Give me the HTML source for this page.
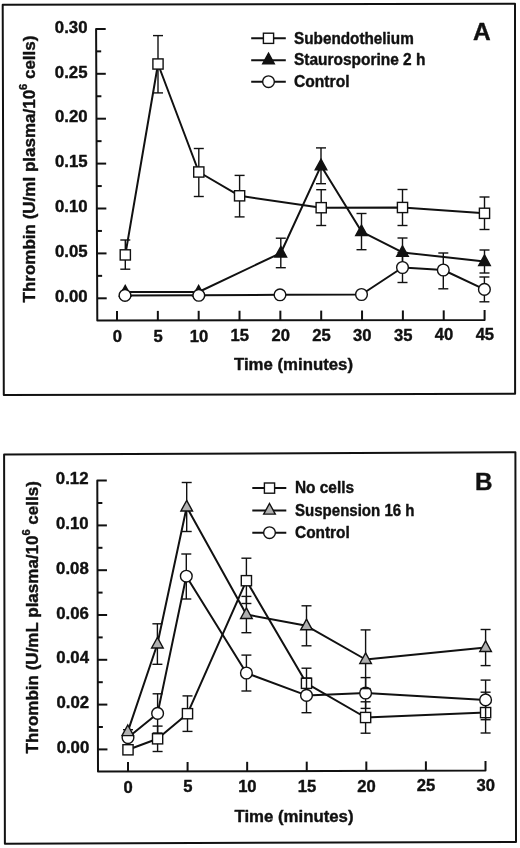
<!DOCTYPE html>
<html><head><meta charset="utf-8"><title>Thrombin generation</title>
<style>
html,body{margin:0;padding:0;background:#fff;}
svg{display:block;filter:grayscale(1);}
svg text{font-family:"Liberation Sans",sans-serif;font-weight:bold;fill:#111;stroke:#111;stroke-width:0.4px;stroke-linejoin:round;}
</style></head><body>
<svg width="520" height="848" viewBox="0 0 520 848" stroke="#111" stroke-linecap="butt">
<rect x="0" y="0" width="520" height="848" fill="#fff" stroke="none"/>
<polygon points="2.70,4.70 515.00,3.80 515.10,393.80 3.80,395.00" fill="none" stroke-width="2.0" stroke-linejoin="round"/>
<polyline points="105.70,28.90 96.10,28.90 97.30,320.60 484.60,319.90 484.60,310.10" fill="none" stroke-width="2.0" stroke-linejoin="round"/>
<text x="87.50" y="32.60" font-size="16.8" text-anchor="end" >0.30</text>
<line x1="96.19" y1="51.35" x2="101.19" y2="51.35" stroke-width="2.0"/>
<line x1="96.28" y1="73.80" x2="105.78" y2="73.80" stroke-width="2.0"/>
<text x="87.53" y="77.50" font-size="16.8" text-anchor="end" >0.25</text>
<line x1="96.38" y1="96.25" x2="101.38" y2="96.25" stroke-width="2.0"/>
<line x1="96.47" y1="118.70" x2="105.97" y2="118.70" stroke-width="2.0"/>
<text x="87.57" y="122.40" font-size="16.8" text-anchor="end" >0.20</text>
<line x1="96.56" y1="141.15" x2="101.56" y2="141.15" stroke-width="2.0"/>
<line x1="96.65" y1="163.60" x2="106.15" y2="163.60" stroke-width="2.0"/>
<text x="87.60" y="167.30" font-size="16.8" text-anchor="end" >0.15</text>
<line x1="96.75" y1="186.05" x2="101.75" y2="186.05" stroke-width="2.0"/>
<line x1="96.84" y1="208.50" x2="106.34" y2="208.50" stroke-width="2.0"/>
<text x="87.63" y="212.20" font-size="16.8" text-anchor="end" >0.10</text>
<line x1="96.93" y1="230.95" x2="101.93" y2="230.95" stroke-width="2.0"/>
<line x1="97.02" y1="253.40" x2="106.52" y2="253.40" stroke-width="2.0"/>
<text x="87.67" y="257.10" font-size="16.8" text-anchor="end" >0.05</text>
<line x1="97.12" y1="275.85" x2="102.12" y2="275.85" stroke-width="2.0"/>
<line x1="97.21" y1="298.30" x2="106.71" y2="298.30" stroke-width="2.0"/>
<text x="87.70" y="302.00" font-size="16.8" text-anchor="end" >0.00</text>
<line x1="117.00" y1="320.56" x2="117.00" y2="310.96" stroke-width="2.0"/>
<text x="117.30" y="341.90" font-size="16.6" text-anchor="middle" >0</text>
<line x1="157.84" y1="320.49" x2="157.84" y2="310.89" stroke-width="2.0"/>
<text x="158.14" y="341.72" font-size="16.6" text-anchor="middle" >5</text>
<line x1="198.68" y1="320.42" x2="198.68" y2="310.82" stroke-width="2.0"/>
<text x="198.98" y="341.54" font-size="16.6" text-anchor="middle" >10</text>
<line x1="239.52" y1="320.34" x2="239.52" y2="310.74" stroke-width="2.0"/>
<text x="239.82" y="341.37" font-size="16.6" text-anchor="middle" >15</text>
<line x1="280.36" y1="320.27" x2="280.36" y2="310.67" stroke-width="2.0"/>
<text x="280.66" y="341.19" font-size="16.6" text-anchor="middle" >20</text>
<line x1="321.20" y1="320.20" x2="321.20" y2="310.60" stroke-width="2.0"/>
<text x="321.50" y="341.01" font-size="16.6" text-anchor="middle" >25</text>
<line x1="362.04" y1="320.12" x2="362.04" y2="310.52" stroke-width="2.0"/>
<text x="362.34" y="340.83" font-size="16.6" text-anchor="middle" >30</text>
<line x1="402.88" y1="320.05" x2="402.88" y2="310.45" stroke-width="2.0"/>
<text x="403.18" y="340.66" font-size="16.6" text-anchor="middle" >35</text>
<line x1="443.72" y1="319.97" x2="443.72" y2="310.37" stroke-width="2.0"/>
<text x="444.02" y="340.48" font-size="16.6" text-anchor="middle" >40</text>
<text x="484.86" y="340.30" font-size="16.6" text-anchor="middle" >45</text>
<text x="293.50" y="369.80" font-size="16.8" text-anchor="middle" >Time (minutes)</text>
<text transform="translate(35.3,169) rotate(-90)" font-size="17" text-anchor="middle">Thrombin (U/ml plasma/10<tspan font-size="11" dy="-8">6</tspan><tspan dy="8"> cells)</tspan></text>
<text x="473.00" y="40.30" font-size="24.5" text-anchor="start" >A</text>
<line x1="251.20" y1="38.30" x2="285.80" y2="38.30" stroke-width="2.0"/>
<rect x="263.40" y="33.20" width="10.20" height="10.20" fill="#fff" stroke-width="1.4"/>
<line x1="251.20" y1="60.20" x2="285.80" y2="60.20" stroke-width="2.0"/>
<polygon points="268.50,53.10 274.30,63.70 262.70,63.70" fill="#111" stroke-width="1.4" stroke-linejoin="miter"/>
<line x1="251.20" y1="81.70" x2="285.80" y2="81.70" stroke-width="2.0"/>
<circle cx="268.50" cy="81.70" r="5.85" fill="#fff" stroke-width="1.4"/>
<text x="294.00" y="43.80" font-size="16" text-anchor="start" textLength="119.8" lengthAdjust="spacingAndGlyphs">Subendothelium</text>
<text x="294.00" y="65.00" font-size="16" text-anchor="start" textLength="131.4" lengthAdjust="spacingAndGlyphs">Staurosporine 2 h</text>
<text x="294.00" y="87.00" font-size="16" text-anchor="start" textLength="55.5" lengthAdjust="spacingAndGlyphs">Control</text>
<line x1="125.30" y1="254.90" x2="125.30" y2="240.00" stroke-width="1.4"/>
<line x1="120.30" y1="240.00" x2="130.30" y2="240.00" stroke-width="1.4"/>
<line x1="125.30" y1="254.90" x2="125.30" y2="269.20" stroke-width="1.4"/>
<line x1="120.30" y1="269.20" x2="130.30" y2="269.20" stroke-width="1.4"/>
<line x1="158.00" y1="64.00" x2="158.00" y2="35.60" stroke-width="1.4"/>
<line x1="153.00" y1="35.60" x2="163.00" y2="35.60" stroke-width="1.4"/>
<line x1="158.00" y1="64.00" x2="158.00" y2="92.90" stroke-width="1.4"/>
<line x1="153.00" y1="92.90" x2="163.00" y2="92.90" stroke-width="1.4"/>
<line x1="198.80" y1="172.00" x2="198.80" y2="148.50" stroke-width="1.4"/>
<line x1="193.80" y1="148.50" x2="203.80" y2="148.50" stroke-width="1.4"/>
<line x1="198.80" y1="172.00" x2="198.80" y2="196.50" stroke-width="1.4"/>
<line x1="193.80" y1="196.50" x2="203.80" y2="196.50" stroke-width="1.4"/>
<line x1="239.60" y1="195.80" x2="239.60" y2="175.40" stroke-width="1.4"/>
<line x1="234.60" y1="175.40" x2="244.60" y2="175.40" stroke-width="1.4"/>
<line x1="239.60" y1="195.80" x2="239.60" y2="216.90" stroke-width="1.4"/>
<line x1="234.60" y1="216.90" x2="244.60" y2="216.90" stroke-width="1.4"/>
<line x1="321.20" y1="207.70" x2="321.20" y2="189.70" stroke-width="1.4"/>
<line x1="316.20" y1="189.70" x2="326.20" y2="189.70" stroke-width="1.4"/>
<line x1="321.20" y1="207.70" x2="321.20" y2="225.50" stroke-width="1.4"/>
<line x1="316.20" y1="225.50" x2="326.20" y2="225.50" stroke-width="1.4"/>
<line x1="402.50" y1="207.50" x2="402.50" y2="189.50" stroke-width="1.4"/>
<line x1="397.50" y1="189.50" x2="407.50" y2="189.50" stroke-width="1.4"/>
<line x1="402.50" y1="207.50" x2="402.50" y2="225.50" stroke-width="1.4"/>
<line x1="397.50" y1="225.50" x2="407.50" y2="225.50" stroke-width="1.4"/>
<line x1="484.50" y1="213.30" x2="484.50" y2="197.00" stroke-width="1.4"/>
<line x1="479.50" y1="197.00" x2="489.50" y2="197.00" stroke-width="1.4"/>
<line x1="484.50" y1="213.30" x2="484.50" y2="229.50" stroke-width="1.4"/>
<line x1="479.50" y1="229.50" x2="489.50" y2="229.50" stroke-width="1.4"/>
<polyline points="125.30,254.90 158.00,64.00 198.80,172.00 239.60,195.80 321.20,207.70 402.50,207.50 484.50,213.30" fill="none" stroke-width="2.0" stroke-linejoin="round"/>
<rect x="120.20" y="249.80" width="10.20" height="10.20" fill="#fff" stroke-width="1.4"/>
<rect x="152.90" y="58.90" width="10.20" height="10.20" fill="#fff" stroke-width="1.4"/>
<rect x="193.70" y="166.90" width="10.20" height="10.20" fill="#fff" stroke-width="1.4"/>
<rect x="234.50" y="190.70" width="10.20" height="10.20" fill="#fff" stroke-width="1.4"/>
<rect x="316.10" y="202.60" width="10.20" height="10.20" fill="#fff" stroke-width="1.4"/>
<rect x="397.40" y="202.40" width="10.20" height="10.20" fill="#fff" stroke-width="1.4"/>
<rect x="479.40" y="208.20" width="10.20" height="10.20" fill="#fff" stroke-width="1.4"/>
<line x1="280.80" y1="253.00" x2="280.80" y2="238.20" stroke-width="1.4"/>
<line x1="275.80" y1="238.20" x2="285.80" y2="238.20" stroke-width="1.4"/>
<line x1="280.80" y1="253.00" x2="280.80" y2="267.70" stroke-width="1.4"/>
<line x1="275.80" y1="267.70" x2="285.80" y2="267.70" stroke-width="1.4"/>
<line x1="321.00" y1="165.80" x2="321.00" y2="147.90" stroke-width="1.4"/>
<line x1="316.00" y1="147.90" x2="326.00" y2="147.90" stroke-width="1.4"/>
<line x1="321.00" y1="165.80" x2="321.00" y2="183.70" stroke-width="1.4"/>
<line x1="316.00" y1="183.70" x2="326.00" y2="183.70" stroke-width="1.4"/>
<line x1="361.50" y1="231.60" x2="361.50" y2="213.50" stroke-width="1.4"/>
<line x1="356.50" y1="213.50" x2="366.50" y2="213.50" stroke-width="1.4"/>
<line x1="361.50" y1="231.60" x2="361.50" y2="249.70" stroke-width="1.4"/>
<line x1="356.50" y1="249.70" x2="366.50" y2="249.70" stroke-width="1.4"/>
<line x1="402.50" y1="252.40" x2="402.50" y2="238.00" stroke-width="1.4"/>
<line x1="397.50" y1="238.00" x2="407.50" y2="238.00" stroke-width="1.4"/>
<line x1="402.50" y1="252.40" x2="402.50" y2="266.80" stroke-width="1.4"/>
<line x1="397.50" y1="266.80" x2="407.50" y2="266.80" stroke-width="1.4"/>
<line x1="484.50" y1="261.50" x2="484.50" y2="250.00" stroke-width="1.4"/>
<line x1="479.50" y1="250.00" x2="489.50" y2="250.00" stroke-width="1.4"/>
<line x1="484.50" y1="261.50" x2="484.50" y2="273.00" stroke-width="1.4"/>
<line x1="479.50" y1="273.00" x2="489.50" y2="273.00" stroke-width="1.4"/>
<polyline points="125.20,292.00 198.60,292.00 280.80,253.00 321.00,165.80 361.50,231.60 402.50,252.40 484.50,261.50" fill="none" stroke-width="2.0" stroke-linejoin="round"/>
<polygon points="125.20,285.40 131.00,296.00 119.40,296.00" fill="#111" stroke-width="1.4" stroke-linejoin="miter"/>
<polygon points="198.60,285.40 204.40,296.00 192.80,296.00" fill="#111" stroke-width="1.4" stroke-linejoin="miter"/>
<polygon points="280.80,246.40 286.60,257.00 275.00,257.00" fill="#111" stroke-width="1.4" stroke-linejoin="miter"/>
<polygon points="321.00,159.20 326.80,169.80 315.20,169.80" fill="#111" stroke-width="1.4" stroke-linejoin="miter"/>
<polygon points="361.50,225.00 367.30,235.60 355.70,235.60" fill="#111" stroke-width="1.4" stroke-linejoin="miter"/>
<polygon points="402.50,245.80 408.30,256.40 396.70,256.40" fill="#111" stroke-width="1.4" stroke-linejoin="miter"/>
<polygon points="484.50,254.90 490.30,265.50 478.70,265.50" fill="#111" stroke-width="1.4" stroke-linejoin="miter"/>
<line x1="402.50" y1="267.50" x2="402.50" y2="252.50" stroke-width="1.4"/>
<line x1="397.50" y1="252.50" x2="407.50" y2="252.50" stroke-width="1.4"/>
<line x1="402.50" y1="267.50" x2="402.50" y2="282.50" stroke-width="1.4"/>
<line x1="397.50" y1="282.50" x2="407.50" y2="282.50" stroke-width="1.4"/>
<line x1="443.30" y1="270.00" x2="443.30" y2="253.00" stroke-width="1.4"/>
<line x1="438.30" y1="253.00" x2="448.30" y2="253.00" stroke-width="1.4"/>
<line x1="443.30" y1="270.00" x2="443.30" y2="288.80" stroke-width="1.4"/>
<line x1="438.30" y1="288.80" x2="448.30" y2="288.80" stroke-width="1.4"/>
<line x1="484.40" y1="289.40" x2="484.40" y2="277.00" stroke-width="1.4"/>
<line x1="479.40" y1="277.00" x2="489.40" y2="277.00" stroke-width="1.4"/>
<line x1="484.40" y1="289.40" x2="484.40" y2="301.80" stroke-width="1.4"/>
<line x1="479.40" y1="301.80" x2="489.40" y2="301.80" stroke-width="1.4"/>
<polyline points="125.00,295.40 198.80,295.30 280.00,294.80 361.50,294.50 402.50,267.50 443.30,270.00 484.40,289.40" fill="none" stroke-width="2.0" stroke-linejoin="round"/>
<circle cx="125.00" cy="295.40" r="5.85" fill="#fff" stroke-width="1.4"/>
<circle cx="198.80" cy="295.30" r="5.85" fill="#fff" stroke-width="1.4"/>
<circle cx="280.00" cy="294.80" r="5.85" fill="#fff" stroke-width="1.4"/>
<circle cx="361.50" cy="294.50" r="5.85" fill="#fff" stroke-width="1.4"/>
<circle cx="402.50" cy="267.50" r="5.85" fill="#fff" stroke-width="1.4"/>
<circle cx="443.30" cy="270.00" r="5.85" fill="#fff" stroke-width="1.4"/>
<circle cx="484.40" cy="289.40" r="5.85" fill="#fff" stroke-width="1.4"/>
<polygon points="4.10,454.50 515.40,452.30 516.00,842.00 4.90,843.70" fill="none" stroke-width="2.0" stroke-linejoin="round"/>
<polyline points="106.80,480.60 97.30,480.60 98.00,771.60 485.50,770.60 485.50,761.10" fill="none" stroke-width="2.0" stroke-linejoin="round"/>
<text x="88.50" y="483.90" font-size="16.8" text-anchor="end" >0.12</text>
<line x1="97.35" y1="503.00" x2="102.35" y2="503.00" stroke-width="2.0"/>
<line x1="97.41" y1="525.40" x2="106.91" y2="525.40" stroke-width="2.0"/>
<text x="88.63" y="528.78" font-size="16.8" text-anchor="end" >0.10</text>
<line x1="97.46" y1="547.80" x2="102.46" y2="547.80" stroke-width="2.0"/>
<line x1="97.52" y1="570.20" x2="107.02" y2="570.20" stroke-width="2.0"/>
<text x="88.77" y="573.67" font-size="16.8" text-anchor="end" >0.08</text>
<line x1="97.57" y1="592.60" x2="102.57" y2="592.60" stroke-width="2.0"/>
<line x1="97.62" y1="615.00" x2="107.12" y2="615.00" stroke-width="2.0"/>
<text x="88.90" y="618.55" font-size="16.8" text-anchor="end" >0.06</text>
<line x1="97.68" y1="637.40" x2="102.68" y2="637.40" stroke-width="2.0"/>
<line x1="97.73" y1="659.80" x2="107.23" y2="659.80" stroke-width="2.0"/>
<text x="89.03" y="663.43" font-size="16.8" text-anchor="end" >0.04</text>
<line x1="97.78" y1="682.20" x2="102.78" y2="682.20" stroke-width="2.0"/>
<line x1="97.84" y1="704.60" x2="107.34" y2="704.60" stroke-width="2.0"/>
<text x="89.17" y="708.32" font-size="16.8" text-anchor="end" >0.02</text>
<line x1="97.89" y1="727.00" x2="102.89" y2="727.00" stroke-width="2.0"/>
<line x1="97.95" y1="749.40" x2="107.45" y2="749.40" stroke-width="2.0"/>
<text x="89.30" y="753.20" font-size="16.8" text-anchor="end" >0.00</text>
<line x1="128.00" y1="771.52" x2="128.00" y2="762.12" stroke-width="2.0"/>
<text x="128.20" y="792.60" font-size="16.6" text-anchor="middle" >0</text>
<line x1="187.58" y1="771.37" x2="187.58" y2="761.97" stroke-width="2.0"/>
<text x="187.78" y="792.37" font-size="16.6" text-anchor="middle" >5</text>
<line x1="247.16" y1="771.22" x2="247.16" y2="761.82" stroke-width="2.0"/>
<text x="247.36" y="792.13" font-size="16.6" text-anchor="middle" >10</text>
<line x1="306.74" y1="771.06" x2="306.74" y2="761.66" stroke-width="2.0"/>
<text x="306.94" y="791.90" font-size="16.6" text-anchor="middle" >15</text>
<line x1="366.32" y1="770.91" x2="366.32" y2="761.51" stroke-width="2.0"/>
<text x="366.52" y="791.67" font-size="16.6" text-anchor="middle" >20</text>
<line x1="425.90" y1="770.75" x2="425.90" y2="761.35" stroke-width="2.0"/>
<text x="426.10" y="791.43" font-size="16.6" text-anchor="middle" >25</text>
<text x="485.68" y="791.20" font-size="16.6" text-anchor="middle" >30</text>
<text x="294.00" y="821.70" font-size="16.8" text-anchor="middle" >Time (minutes)</text>
<text transform="translate(37.6,617.3) rotate(-90)" font-size="17" text-anchor="middle">Thrombin (U/mL plasma/10<tspan font-size="11" dy="-8">6</tspan><tspan dy="8"> cells)</tspan></text>
<text x="475.00" y="490.00" font-size="24.2" text-anchor="start" >B</text>
<line x1="252.30" y1="488.10" x2="286.30" y2="488.10" stroke-width="2.0"/>
<rect x="264.40" y="483.00" width="10.20" height="10.20" fill="#fff" stroke-width="1.4"/>
<line x1="252.30" y1="510.60" x2="286.30" y2="510.60" stroke-width="2.0"/>
<polygon points="269.50,503.50 275.30,514.10 263.70,514.10" fill="#b0b0b0" stroke-width="1.4" stroke-linejoin="miter"/>
<line x1="252.30" y1="532.70" x2="286.30" y2="532.70" stroke-width="2.0"/>
<circle cx="269.50" cy="532.70" r="5.85" fill="#fff" stroke-width="1.4"/>
<text x="295.00" y="493.00" font-size="16" text-anchor="start" textLength="59" lengthAdjust="spacingAndGlyphs">No cells</text>
<text x="295.00" y="515.50" font-size="16" text-anchor="start" textLength="119.5" lengthAdjust="spacingAndGlyphs">Suspension 16 h</text>
<text x="295.00" y="537.50" font-size="16" text-anchor="start" textLength="54.8" lengthAdjust="spacingAndGlyphs">Control</text>
<line x1="157.60" y1="738.80" x2="157.60" y2="726.10" stroke-width="1.4"/>
<line x1="152.60" y1="726.10" x2="162.60" y2="726.10" stroke-width="1.4"/>
<line x1="157.60" y1="738.80" x2="157.60" y2="751.50" stroke-width="1.4"/>
<line x1="152.60" y1="751.50" x2="162.60" y2="751.50" stroke-width="1.4"/>
<line x1="187.50" y1="713.70" x2="187.50" y2="695.90" stroke-width="1.4"/>
<line x1="182.50" y1="695.90" x2="192.50" y2="695.90" stroke-width="1.4"/>
<line x1="187.50" y1="713.70" x2="187.50" y2="731.40" stroke-width="1.4"/>
<line x1="182.50" y1="731.40" x2="192.50" y2="731.40" stroke-width="1.4"/>
<line x1="246.40" y1="580.70" x2="246.40" y2="558.20" stroke-width="1.4"/>
<line x1="241.40" y1="558.20" x2="251.40" y2="558.20" stroke-width="1.4"/>
<line x1="246.40" y1="580.70" x2="246.40" y2="603.50" stroke-width="1.4"/>
<line x1="241.40" y1="603.50" x2="251.40" y2="603.50" stroke-width="1.4"/>
<line x1="306.50" y1="683.30" x2="306.50" y2="668.20" stroke-width="1.4"/>
<line x1="301.50" y1="668.20" x2="311.50" y2="668.20" stroke-width="1.4"/>
<line x1="306.50" y1="683.30" x2="306.50" y2="698.40" stroke-width="1.4"/>
<line x1="301.50" y1="698.40" x2="311.50" y2="698.40" stroke-width="1.4"/>
<line x1="365.60" y1="717.50" x2="365.60" y2="701.80" stroke-width="1.4"/>
<line x1="360.60" y1="701.80" x2="370.60" y2="701.80" stroke-width="1.4"/>
<line x1="365.60" y1="717.50" x2="365.60" y2="733.20" stroke-width="1.4"/>
<line x1="360.60" y1="733.20" x2="370.60" y2="733.20" stroke-width="1.4"/>
<line x1="485.60" y1="712.60" x2="485.60" y2="692.20" stroke-width="1.4"/>
<line x1="480.60" y1="692.20" x2="490.60" y2="692.20" stroke-width="1.4"/>
<line x1="485.60" y1="712.60" x2="485.60" y2="733.00" stroke-width="1.4"/>
<line x1="480.60" y1="733.00" x2="490.60" y2="733.00" stroke-width="1.4"/>
<polyline points="128.00,749.80 157.60,738.80 187.50,713.70 246.40,580.70 306.50,683.30 365.60,717.50 485.60,712.60" fill="none" stroke-width="2.0" stroke-linejoin="round"/>
<rect x="122.90" y="744.70" width="10.20" height="10.20" fill="#fff" stroke-width="1.4"/>
<rect x="152.50" y="733.70" width="10.20" height="10.20" fill="#fff" stroke-width="1.4"/>
<rect x="182.40" y="708.60" width="10.20" height="10.20" fill="#fff" stroke-width="1.4"/>
<rect x="241.30" y="575.60" width="10.20" height="10.20" fill="#fff" stroke-width="1.4"/>
<rect x="301.40" y="678.20" width="10.20" height="10.20" fill="#fff" stroke-width="1.4"/>
<rect x="360.50" y="712.40" width="10.20" height="10.20" fill="#fff" stroke-width="1.4"/>
<rect x="480.50" y="707.50" width="10.20" height="10.20" fill="#fff" stroke-width="1.4"/>
<line x1="128.00" y1="737.60" x2="128.00" y2="729.70" stroke-width="1.4"/>
<line x1="123.00" y1="729.70" x2="133.00" y2="729.70" stroke-width="1.4"/>
<line x1="157.60" y1="713.40" x2="157.60" y2="693.80" stroke-width="1.4"/>
<line x1="152.60" y1="693.80" x2="162.60" y2="693.80" stroke-width="1.4"/>
<line x1="157.60" y1="713.40" x2="157.60" y2="733.00" stroke-width="1.4"/>
<line x1="152.60" y1="733.00" x2="162.60" y2="733.00" stroke-width="1.4"/>
<line x1="186.30" y1="576.20" x2="186.30" y2="554.00" stroke-width="1.4"/>
<line x1="181.30" y1="554.00" x2="191.30" y2="554.00" stroke-width="1.4"/>
<line x1="186.30" y1="576.20" x2="186.30" y2="599.00" stroke-width="1.4"/>
<line x1="181.30" y1="599.00" x2="191.30" y2="599.00" stroke-width="1.4"/>
<line x1="246.40" y1="673.00" x2="246.40" y2="655.10" stroke-width="1.4"/>
<line x1="241.40" y1="655.10" x2="251.40" y2="655.10" stroke-width="1.4"/>
<line x1="246.40" y1="673.00" x2="246.40" y2="691.00" stroke-width="1.4"/>
<line x1="241.40" y1="691.00" x2="251.40" y2="691.00" stroke-width="1.4"/>
<line x1="306.50" y1="695.40" x2="306.50" y2="678.10" stroke-width="1.4"/>
<line x1="301.50" y1="678.10" x2="311.50" y2="678.10" stroke-width="1.4"/>
<line x1="306.50" y1="695.40" x2="306.50" y2="712.70" stroke-width="1.4"/>
<line x1="301.50" y1="712.70" x2="311.50" y2="712.70" stroke-width="1.4"/>
<line x1="365.60" y1="693.00" x2="365.60" y2="677.60" stroke-width="1.4"/>
<line x1="360.60" y1="677.60" x2="370.60" y2="677.60" stroke-width="1.4"/>
<line x1="365.60" y1="693.00" x2="365.60" y2="708.40" stroke-width="1.4"/>
<line x1="360.60" y1="708.40" x2="370.60" y2="708.40" stroke-width="1.4"/>
<line x1="485.60" y1="699.90" x2="485.60" y2="680.10" stroke-width="1.4"/>
<line x1="480.60" y1="680.10" x2="490.60" y2="680.10" stroke-width="1.4"/>
<line x1="485.60" y1="699.90" x2="485.60" y2="719.70" stroke-width="1.4"/>
<line x1="480.60" y1="719.70" x2="490.60" y2="719.70" stroke-width="1.4"/>
<polyline points="128.00,737.60 157.60,713.40 186.30,576.20 246.40,673.00 306.50,695.40 365.60,693.00 485.60,699.90" fill="none" stroke-width="2.0" stroke-linejoin="round"/>
<circle cx="128.00" cy="737.60" r="5.85" fill="#fff" stroke-width="1.4"/>
<circle cx="157.60" cy="713.40" r="5.85" fill="#fff" stroke-width="1.4"/>
<circle cx="186.30" cy="576.20" r="5.85" fill="#fff" stroke-width="1.4"/>
<circle cx="246.40" cy="673.00" r="5.85" fill="#fff" stroke-width="1.4"/>
<circle cx="306.50" cy="695.40" r="5.85" fill="#fff" stroke-width="1.4"/>
<circle cx="365.60" cy="693.00" r="5.85" fill="#fff" stroke-width="1.4"/>
<circle cx="485.60" cy="699.90" r="5.85" fill="#fff" stroke-width="1.4"/>
<line x1="157.40" y1="644.00" x2="157.40" y2="623.80" stroke-width="1.4"/>
<line x1="152.40" y1="623.80" x2="162.40" y2="623.80" stroke-width="1.4"/>
<line x1="157.40" y1="644.00" x2="157.40" y2="664.30" stroke-width="1.4"/>
<line x1="152.40" y1="664.30" x2="162.40" y2="664.30" stroke-width="1.4"/>
<line x1="186.70" y1="507.00" x2="186.70" y2="482.50" stroke-width="1.4"/>
<line x1="181.70" y1="482.50" x2="191.70" y2="482.50" stroke-width="1.4"/>
<line x1="186.70" y1="507.00" x2="186.70" y2="531.50" stroke-width="1.4"/>
<line x1="181.70" y1="531.50" x2="191.70" y2="531.50" stroke-width="1.4"/>
<line x1="246.40" y1="614.50" x2="246.40" y2="596.40" stroke-width="1.4"/>
<line x1="241.40" y1="596.40" x2="251.40" y2="596.40" stroke-width="1.4"/>
<line x1="246.40" y1="614.50" x2="246.40" y2="632.70" stroke-width="1.4"/>
<line x1="241.40" y1="632.70" x2="251.40" y2="632.70" stroke-width="1.4"/>
<line x1="306.50" y1="625.80" x2="306.50" y2="605.80" stroke-width="1.4"/>
<line x1="301.50" y1="605.80" x2="311.50" y2="605.80" stroke-width="1.4"/>
<line x1="306.50" y1="625.80" x2="306.50" y2="645.80" stroke-width="1.4"/>
<line x1="301.50" y1="645.80" x2="311.50" y2="645.80" stroke-width="1.4"/>
<line x1="365.60" y1="659.50" x2="365.60" y2="629.90" stroke-width="1.4"/>
<line x1="360.60" y1="629.90" x2="370.60" y2="629.90" stroke-width="1.4"/>
<line x1="365.60" y1="659.50" x2="365.60" y2="688.60" stroke-width="1.4"/>
<line x1="360.60" y1="688.60" x2="370.60" y2="688.60" stroke-width="1.4"/>
<line x1="485.60" y1="647.50" x2="485.60" y2="629.50" stroke-width="1.4"/>
<line x1="480.60" y1="629.50" x2="490.60" y2="629.50" stroke-width="1.4"/>
<line x1="485.60" y1="647.50" x2="485.60" y2="665.60" stroke-width="1.4"/>
<line x1="480.60" y1="665.60" x2="490.60" y2="665.60" stroke-width="1.4"/>
<polyline points="127.80,731.60 157.40,644.00 186.70,507.00 246.40,614.50 306.50,625.80 365.60,659.50 485.60,647.50" fill="none" stroke-width="2.0" stroke-linejoin="round"/>
<polygon points="127.80,725.00 133.60,735.60 122.00,735.60" fill="#b0b0b0" stroke-width="1.4" stroke-linejoin="miter"/>
<polygon points="157.40,637.40 163.20,648.00 151.60,648.00" fill="#b0b0b0" stroke-width="1.4" stroke-linejoin="miter"/>
<polygon points="186.70,500.40 192.50,511.00 180.90,511.00" fill="#b0b0b0" stroke-width="1.4" stroke-linejoin="miter"/>
<polygon points="246.40,607.90 252.20,618.50 240.60,618.50" fill="#b0b0b0" stroke-width="1.4" stroke-linejoin="miter"/>
<polygon points="306.50,619.20 312.30,629.80 300.70,629.80" fill="#b0b0b0" stroke-width="1.4" stroke-linejoin="miter"/>
<polygon points="365.60,652.90 371.40,663.50 359.80,663.50" fill="#b0b0b0" stroke-width="1.4" stroke-linejoin="miter"/>
<polygon points="485.60,640.90 491.40,651.50 479.80,651.50" fill="#b0b0b0" stroke-width="1.4" stroke-linejoin="miter"/>
</svg>
</body></html>
